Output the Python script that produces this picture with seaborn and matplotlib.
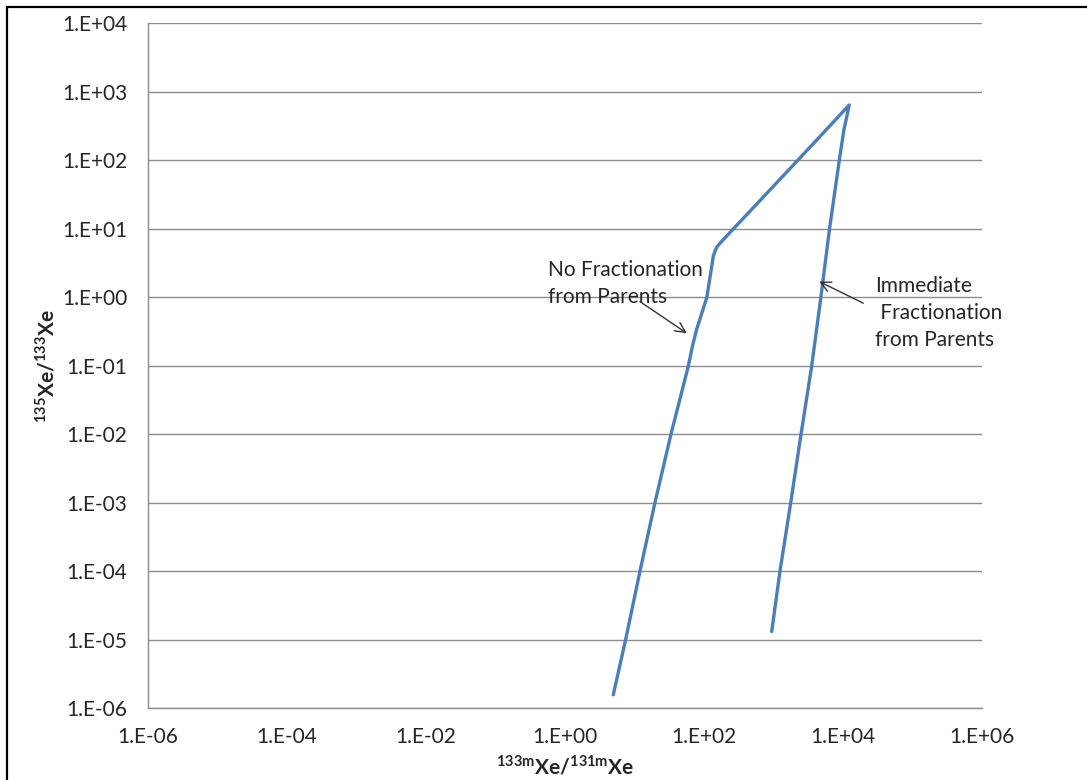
import numpy as np
import pandas as pd
import matplotlib
matplotlib.use("Agg")
import matplotlib.pyplot as plt
from matplotlib.ticker import FixedLocator, FuncFormatter, NullLocator
from matplotlib.patches import Rectangle
import seaborn as sns

# Isotopic activity ratios along the evolution path:
# rising branch (no fractionation from parents), then the return branch
# (immediate fractionation from parents)
ratio_133m_131m = [4.95, 7.46, 12.0, 19.7, 33.5, 59.7, 67.9, 78.5, 110, 129, 136,
                   145, 155, 170, 266, 2240, 12300,
                   10300, 8850, 6400, 4810, 3550, 2490, 1770, 1240, 942]
ratio_135_133 = [1.56e-6, 1e-5, 1e-4, 1e-3, 1e-2, 0.1, 0.19, 0.34, 1.0, 2.8, 3.98,
                 4.79, 5.5, 6.14, 10, 100, 641,
                 277, 100, 10, 1.0, 0.1, 0.01, 1e-3, 1e-4, 1.31e-5]

x_tick_values = [1e-6, 1e-4, 1e-2, 1e0, 1e2, 1e4, 1e6]
y_tick_values = [1e-6, 1e-5, 1e-4, 1e-3, 1e-2, 1e-1, 1e0, 1e1, 1e2, 1e3, 1e4]

df = pd.DataFrame({"x": ratio_133m_131m, "y": ratio_135_133,
                   "step": np.arange(len(ratio_133m_131m))})

sns.set_theme(style="white")
plt.rcParams["font.family"] = ["Lato", "DejaVu Sans"]
plt.rcParams["mathtext.fontset"] = "custom"
plt.rcParams["mathtext.rm"] = "Lato"
plt.rcParams["mathtext.bf"] = "Lato:bold"

W, H = 1087, 780
fig = plt.figure(figsize=(W / 100, H / 100), dpi=100)
ax = fig.add_axes([148 / W, 1 - 708 / H, 834 / W, 684.7 / H])

sns.lineplot(data=df, x="x", y="y", sort=False, estimator=None,
             color="#4a7ebb", lw=2.4, ax=ax, zorder=3)

ax.set_xscale("log")
ax.set_yscale("log")
ax.set_xlim(1e-6, 1e6)
ax.set_ylim(1e-6, 1e4)

def sci_label(v, pos):
    e = int(round(np.log10(v)))
    return f"1.E{e:+03d}"

ax.xaxis.set_major_locator(FixedLocator(x_tick_values))
ax.yaxis.set_major_locator(FixedLocator(y_tick_values))
ax.xaxis.set_minor_locator(NullLocator())
ax.yaxis.set_minor_locator(NullLocator())
ax.xaxis.set_major_formatter(FuncFormatter(sci_label))
ax.yaxis.set_major_formatter(FuncFormatter(sci_label))

grid_color = "#8c8c8c"
ax.yaxis.grid(True, color=grid_color, lw=1.0)
ax.xaxis.grid(False)
for side in ("top", "right"):
    ax.spines[side].set_visible(False)
for side in ("left", "bottom"):
    ax.spines[side].set_color(grid_color)
    ax.spines[side].set_linewidth(1.0)

text_color = "#262626"
ax.tick_params(axis="both", which="major", direction="out", length=5, width=1,
               color=grid_color, labelsize=15, labelcolor=text_color)
ax.tick_params(axis="y", pad=10)
ax.tick_params(axis="x", pad=9)

ax.set_xlabel(r"$^{\mathbf{133m}}\mathbf{Xe/}^{\mathbf{131m}}\mathbf{Xe}$",
              fontsize=15, color=text_color)
ax.set_ylabel(r"$^{\mathbf{135}}\mathbf{Xe/}^{\mathbf{133}}\mathbf{Xe}$",
              fontsize=15, color=text_color)
ax.xaxis.set_label_coords(0.5, -0.068)
ax.yaxis.set_label_coords(-0.108, 0.5)

# Annotations with open arrowheads pointing at the two branches
ax.text(0.569, 0.826, "No Fractionation\nfrom Parents", ha="left", va="baseline",
        fontsize=15, color=text_color, linespacing=1.42)
ax.annotate("", xy=(56.4, 0.298), xytext=(12.0, 0.863),
            arrowprops=dict(arrowstyle="->", color="#333333", lw=1.0,
                            mutation_scale=18, shrinkA=0, shrinkB=0))

ax.text(28800, 0.1945, "Immediate\n Fractionation\nfrom Parents", ha="left",
        va="baseline", fontsize=15, color=text_color, linespacing=1.42)
ax.annotate("", xy=(4560, 1.69), xytext=(19600, 0.817),
            arrowprops=dict(arrowstyle="->", color="#333333", lw=1.0,
                            mutation_scale=18, shrinkA=0, shrinkB=0))

# Chart frame
fig.add_artist(Rectangle((7 / W, -0.1), 1.2, 1 - 7 / H + 0.1,
                         transform=fig.transFigure, fill=False,
                         ec="black", lw=1.6))

fig.savefig("out.png", dpi=100)
